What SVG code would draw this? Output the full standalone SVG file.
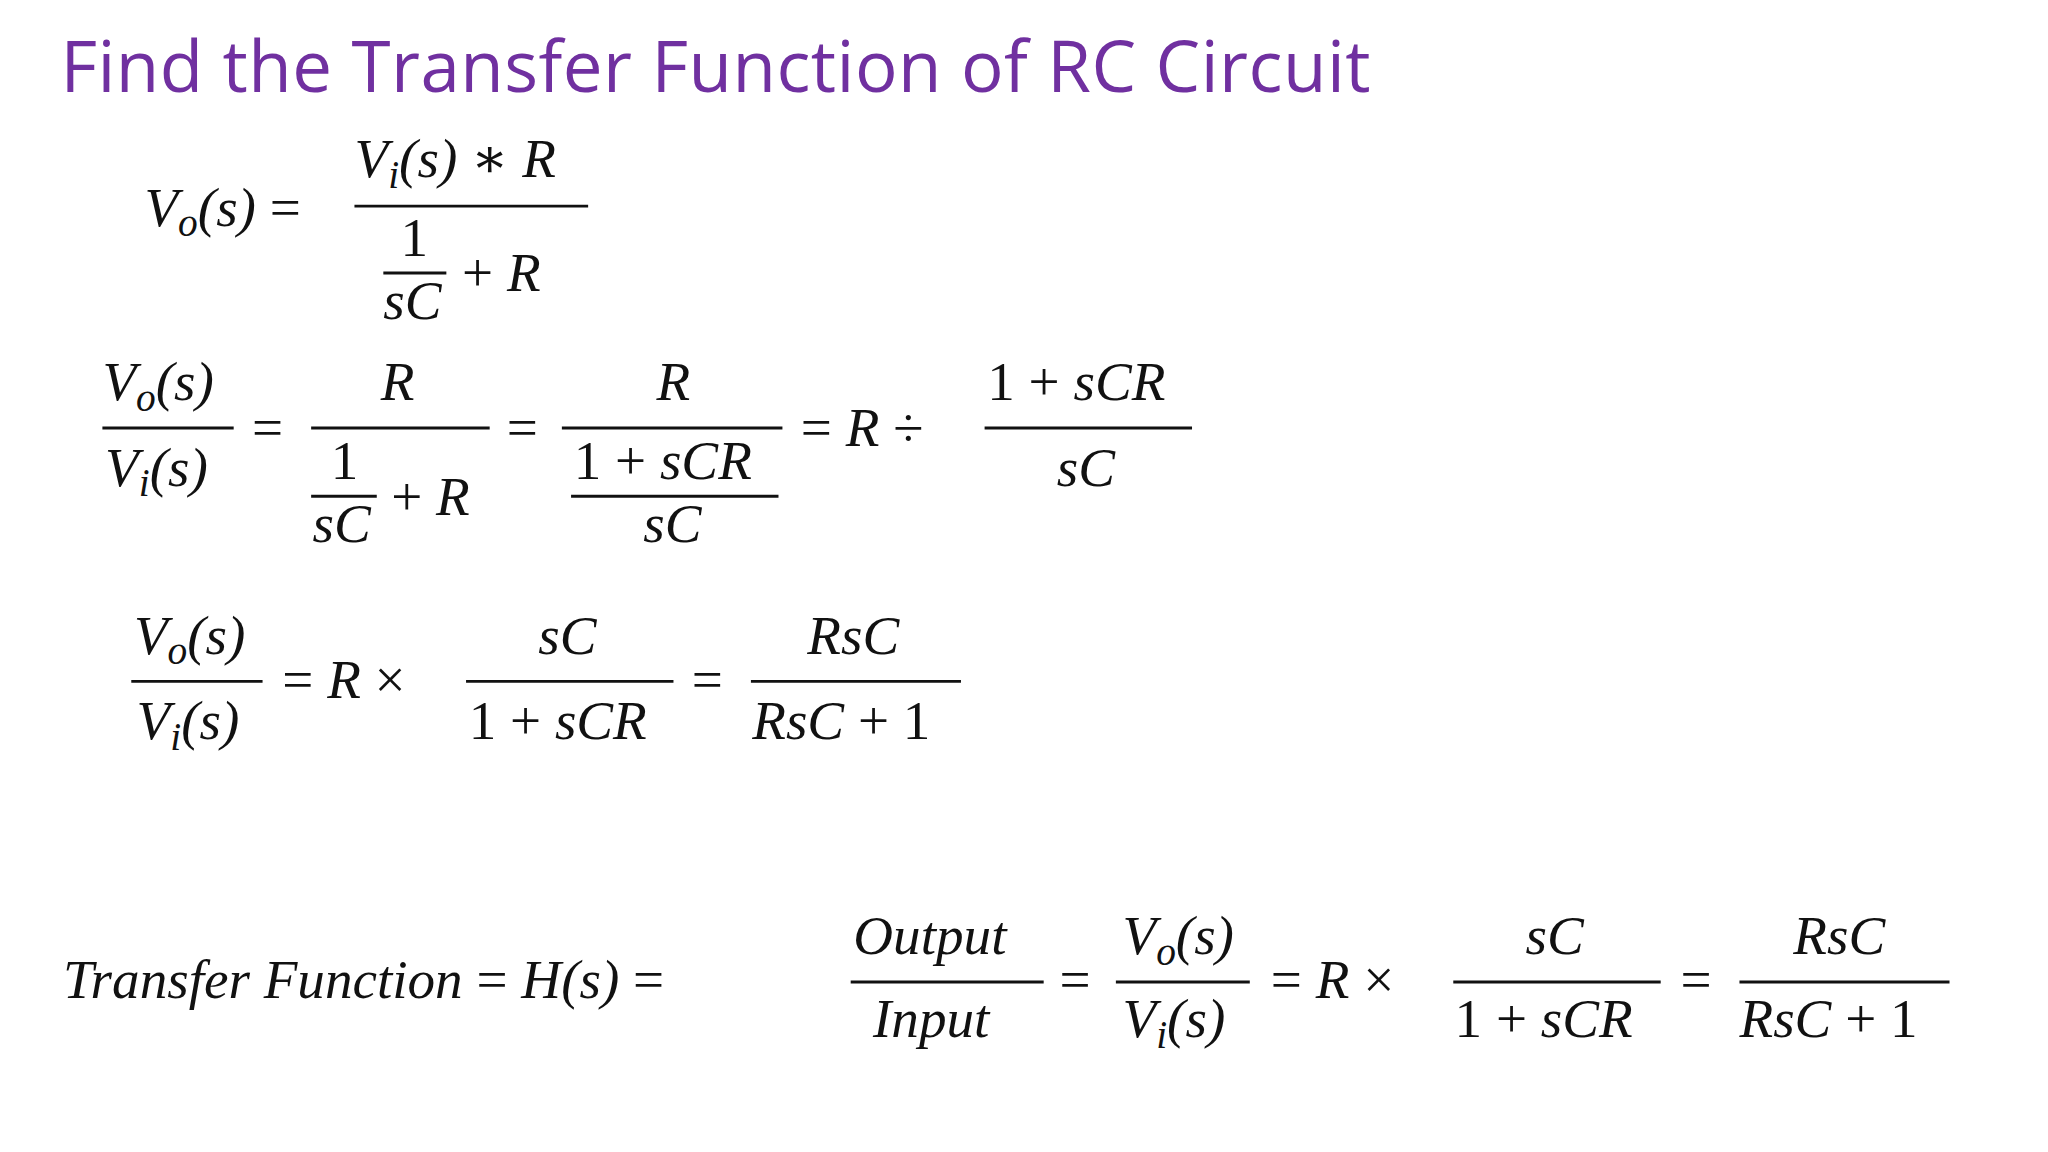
<svg xmlns="http://www.w3.org/2000/svg" width="2048" height="1152" viewBox="0 0 2048 1152">
<style>
.m{font-family:"Liberation Serif","DejaVu Serif",serif;font-style:italic;font-size:42px;fill:#111}
.n{font-style:normal}
.s{font-size:30px}
.b{stroke:#111;stroke-width:2.2}
.t{font-family:"Open Sans","Noto Sans",sans-serif;font-size:54px;fill:#7030A0}
</style>
<rect width="2048" height="1152" fill="#fff"/>
<g transform="scale(1.3128)">
<g id="title"><text class="t" x="46" y="70" textLength="998">Find the Transfer Function of RC Circuit</text></g>
<g id="eq1">
<text class="m" x="110" y="172">V<tspan class="s" dy="8">o</tspan><tspan dy="-8">(s) </tspan><tspan class="n">=</tspan></text>
<text class="m" x="270" y="135">V<tspan class="s" dy="8">i</tspan><tspan dy="-8">(s)  </tspan><tspan class="n">∗</tspan> R</text>
<text class="m n" x="305" y="195">1</text>
<text class="m" x="292" y="243">sC</text>
<text class="m" x="352" y="222"><tspan class="n">+</tspan> R</text>
</g>
<g id="eq2">
<text class="m" x="78" y="305">V<tspan class="s" dy="8">o</tspan><tspan dy="-8">(s)</tspan></text>
<text class="m" x="80" y="370">V<tspan class="s" dy="8">i</tspan><tspan dy="-8">(s)</tspan></text>
<text class="m n" x="192" y="340">=</text>
<text class="m" x="290" y="305">R</text>
<text class="m n" x="252" y="365">1</text>
<text class="m" x="238" y="413">sC</text>
<text class="m" x="298" y="392"><tspan class="n">+</tspan> R</text>
<text class="m n" x="386" y="340">=</text>
<text class="m" x="500" y="305">R</text>
<text class="m" x="437" y="365"><tspan class="n">1 +</tspan> sCR</text>
<text class="m" x="490" y="413">sC</text>
<text class="m" x="610" y="340"><tspan class="n">=</tspan> R  <tspan class="n">÷</tspan></text>
<text class="m" x="752" y="305"><tspan class="n">1 +</tspan> sCR</text>
<text class="m" x="805" y="370">sC</text>
</g>
<g id="eq3">
<text class="m" x="102" y="498">V<tspan class="s" dy="8">o</tspan><tspan dy="-8">(s)</tspan></text>
<text class="m" x="104" y="563">V<tspan class="s" dy="8">i</tspan><tspan dy="-8">(s)</tspan></text>
<text class="m" x="215" y="532"><tspan class="n">=</tspan> R  <tspan class="n">×</tspan></text>
<text class="m" x="410" y="498">sC</text>
<text class="m" x="357" y="563"><tspan class="n">1 +</tspan> sCR</text>
<text class="m n" x="527" y="532">=</text>
<text class="m" x="615" y="498">RsC</text>
<text class="m" x="573" y="563">RsC <tspan class="n">+ 1</tspan></text>
</g>
<g id="eq4">
<text class="m" x="48" y="760">Transfer Function <tspan class="n">=</tspan> H(s) <tspan class="n">=</tspan></text>
<text class="m" x="650" y="727">Output</text>
<text class="m" x="665" y="790">Input</text>
<text class="m n" x="807" y="760">=</text>
<text class="m" x="855" y="727">V<tspan class="s" dy="8">o</tspan><tspan dy="-8">(s)</tspan></text>
<text class="m" x="855" y="790">V<tspan class="s" dy="8">i</tspan><tspan dy="-8">(s)</tspan></text>
<text class="m" x="968" y="760"><tspan class="n">=</tspan> R  <tspan class="n">×</tspan></text>
<text class="m" x="1162" y="727">sC</text>
<text class="m" x="1108" y="790"><tspan class="n">1 +</tspan> sCR</text>
<text class="m n" x="1280" y="760">=</text>
<text class="m" x="1366" y="727">RsC</text>
<text class="m" x="1325" y="790">RsC <tspan class="n">+ 1</tspan></text>
</g>
<g id="bars" class="b">
<line x1="270" y1="157" x2="448" y2="157"/><line x1="292" y1="208" x2="340" y2="208"/>
<line x1="78" y1="326" x2="178" y2="326"/><line x1="237" y1="326" x2="373" y2="326"/><line x1="237" y1="378" x2="287" y2="378"/>
<line x1="428" y1="326" x2="596" y2="326"/><line x1="435" y1="378" x2="593" y2="378"/><line x1="750" y1="326" x2="908" y2="326"/>
<line x1="100" y1="519" x2="200" y2="519"/><line x1="355" y1="519" x2="513" y2="519"/><line x1="572" y1="519" x2="732" y2="519"/>
<line x1="648" y1="748" x2="795" y2="748"/><line x1="850" y1="748" x2="952" y2="748"/><line x1="1107" y1="748" x2="1265" y2="748"/><line x1="1325" y1="748" x2="1485" y2="748"/>
</g>
</g>
</svg>
